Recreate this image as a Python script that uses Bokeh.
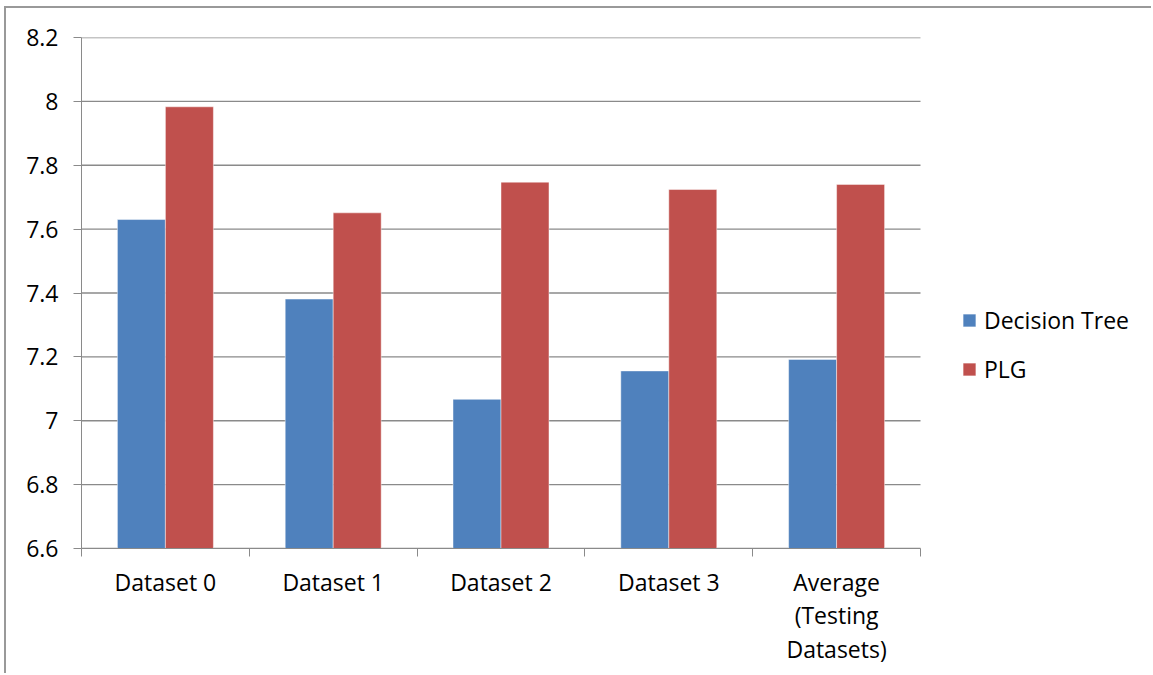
from bokeh.plotting import figure
from bokeh.models import (ColumnDataSource, Range1d, FixedTicker, Legend, LegendItem)
from bokeh.transform import dodge
from bokeh.embed import file_html
from bokeh.resources import INLINE

# Chart data
categories = ["Dataset 0", "Dataset 1", "Dataset 2", "Dataset 3", "Average\n(Testing\nDatasets)"]
decision_tree = [7.630, 7.381, 7.067, 7.156, 7.192]
plg = [7.983, 7.651, 7.747, 7.724, 7.740]
y_ticks = [6.6, 6.8, 7.0, 7.2, 7.4, 7.6, 7.8, 8.0, 8.2]
y_tick_labels = ["6.6", "6.8", "7", "7.2", "7.4", "7.6", "7.8", "8", "8.2"]

FONT = "Open Sans"
FONT_SIZE = "23px"
BLUE = "#4F81BD"
RED = "#C0504D"
GRID = "#8a8a8a"

n = len(categories)
centers = [i + 0.5 for i in range(n)]
source = ColumnDataSource(dict(x=centers, dt=decision_tree, plg=plg))

# The frame runs to the right edge so the legend can sit inside it;
# the category area (axis bounds + gridlines) covers 839 of its 1072 px.
W, H = 1147, 667
LEFT, TOP, BOTTOM = 75, 29, 127
frame_w = W - LEFT
x_end = n * frame_w / 839.0

p = figure(width=W, height=H, output_backend="svg", toolbar_location=None,
           x_range=Range1d(0, x_end), y_range=Range1d(y_ticks[0], y_ticks[-1]),
           min_border_left=LEFT, min_border_right=0, min_border_top=TOP, min_border_bottom=BOTTOM)
p.styles = {"margin-left": "4px", "margin-top": "6px",
            "border-left": "2px solid #999999", "border-top": "2px solid #999999"}
p.outline_line_color = None
p.background_fill_color = "white"
p.border_fill_color = "white"

# horizontal gridlines across the category area
p.segment(x0=[0] * len(y_ticks), x1=[n] * len(y_ticks), y0=y_ticks, y1=y_ticks,
          line_color=GRID, line_width=1.3)

bar_w = 0.286
base = y_ticks[0]
r_dt = p.vbar(x=dodge("x", -bar_w / 2), top="dt", bottom=base, width=bar_w, source=source,
              fill_color=BLUE, line_color="white", line_alpha=0.45, line_width=1)
r_plg = p.vbar(x=dodge("x", bar_w / 2), top="plg", bottom=base, width=bar_w, source=source,
               fill_color=RED, line_color="white", line_alpha=0.45, line_width=1)

# y axis
p.yaxis.ticker = FixedTicker(ticks=y_ticks, minor_ticks=[])
p.yaxis.major_label_overrides = {t: s for t, s in zip(y_ticks, y_tick_labels)}
p.yaxis.major_tick_out = 8
p.yaxis.major_tick_in = 0
p.yaxis.major_tick_line_color = GRID
p.yaxis.axis_line_color = GRID
p.yaxis.major_label_standoff = 15
p.yaxis.major_label_text_font = FONT
p.yaxis.major_label_text_font_size = FONT_SIZE
p.yaxis.major_label_text_color = "black"

# x axis: labels at category centers, ticks at category boundaries
p.xaxis.bounds = (0, n)
p.xaxis.ticker = FixedTicker(ticks=centers, minor_ticks=list(range(n + 1)))
p.xaxis.major_label_overrides = {c: lab for c, lab in zip(centers, categories)}
p.xaxis.major_tick_out = 0
p.xaxis.major_tick_in = 0
p.xaxis.minor_tick_out = 8
p.xaxis.minor_tick_in = 0
p.xaxis.minor_tick_line_color = GRID
p.xaxis.axis_line_color = GRID
p.xaxis.major_label_standoff = 9
p.xaxis.major_label_text_font = FONT
p.xaxis.major_label_text_font_size = FONT_SIZE
p.xaxis.major_label_text_color = "black"
p.xaxis.major_label_text_line_height = 1.06

p.xgrid.grid_line_color = None
p.ygrid.grid_line_color = None

legend = Legend(items=[LegendItem(label="Decision Tree", renderers=[r_dt]),
                       LegendItem(label="PLG", renderers=[r_plg])],
                location=(880, 163), orientation="vertical",
                padding=0, margin=0, spacing=17, glyph_width=16, glyph_height=16,
                label_standoff=7, label_text_font=FONT, label_text_font_size=FONT_SIZE,
                label_text_color="black", border_line_color=None, background_fill_alpha=0)
p.add_layout(legend, "center")

open("out.html", "w").write(file_html(p, INLINE))
